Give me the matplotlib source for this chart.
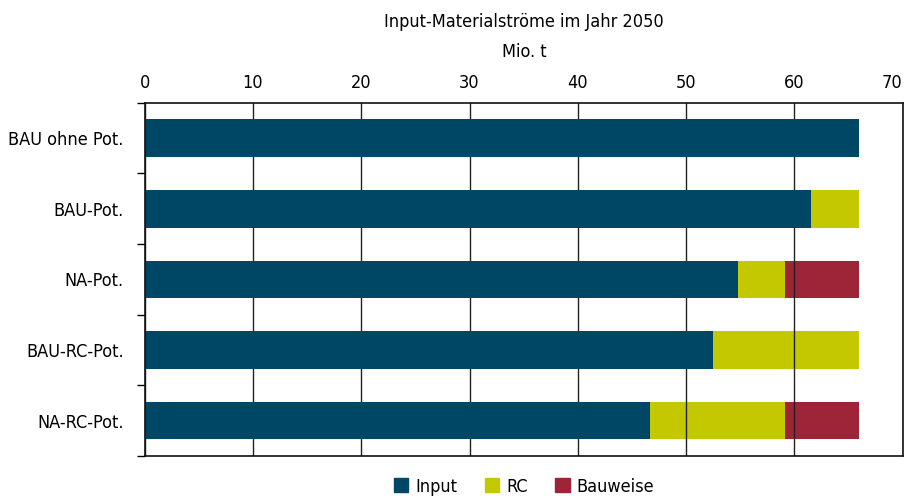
import matplotlib.pyplot as plt
from matplotlib.patches import Patch

# data (Mio. t)
szenarien = ['BAU ohne Pot.', 'BAU-Pot.', 'NA-Pot.', 'BAU-RC-Pot.', 'NA-RC-Pot.']
input_werte = [66.0, 61.5, 54.8, 52.5, 46.7]
rc_werte = [0.0, 4.5, 4.3, 13.5, 12.4]
bauweise_werte = [0.0, 0.0, 6.9, 0.0, 6.9]

farben = {'Input': '#004766', 'RC': '#c4c800', 'Bauweise': '#9e2437'}

plt.rcParams['font.family'] = ['DejaVu Sans']
plt.rcParams['font.stretch'] = 'condensed'
plt.rcParams['font.size'] = 13

fig = plt.figure(figsize=(9.1, 4.99), dpi=100)
ax = fig.add_axes([0.159, 0.086, 0.833, 0.708])

y = list(range(len(szenarien)))
h = 0.53
# blue bars above the grid, the other parts below it (as in the reference)
ax.barh(y, input_werte, height=h, color=farben['Input'], zorder=4)
links = input_werte
ax.barh(y, rc_werte, left=links, height=h, color=farben['RC'], zorder=2)
links = [a + b for a, b in zip(input_werte, rc_werte)]
ax.barh(y, bauweise_werte, left=links, height=h, color=farben['Bauweise'], zorder=2)

ax.set_xlim(0, 70)
ax.set_ylim(len(szenarien) - 0.5, -0.5)
ax.set_xticks(range(0, 71, 10))
ax.xaxis.tick_top()
ax.tick_params(axis='x', length=0, pad=8)
ax.set_axisbelow(False)
ax.grid(axis='x', color='#222222', linewidth=1, zorder=3)
# keep the last tick label inside the figure
ax.get_xticklabels()[-1].set_horizontalalignment('right')

ax.set_yticks(y)
ax.set_yticklabels(szenarien)
ax.tick_params(axis='y', length=0, pad=15)
ax.set_yticks([i - 0.5 for i in range(len(szenarien) + 1)], minor=True)
ax.tick_params(axis='y', which='minor', length=6, width=1, direction='out')

for s in ax.spines.values():
    s.set_linewidth(1.2)
    s.set_color('#111111')
    s.set_zorder(5)

fig.text(0.576, 0.955, 'Input-Materialströme im Jahr 2050', ha='center', va='center')
fig.text(0.576, 0.895, 'Mio. t', ha='center', va='center')

handles = [Patch(color=c, label=k) for k, c in farben.items()]
fig.legend(handles=handles, loc='center', bbox_to_anchor=(0.576, 0.025), ncol=3,
           frameon=False, handlelength=0.8, handleheight=0.8, handletextpad=0.4,
           columnspacing=1.5)

fig.savefig('out.png', dpi=100)
